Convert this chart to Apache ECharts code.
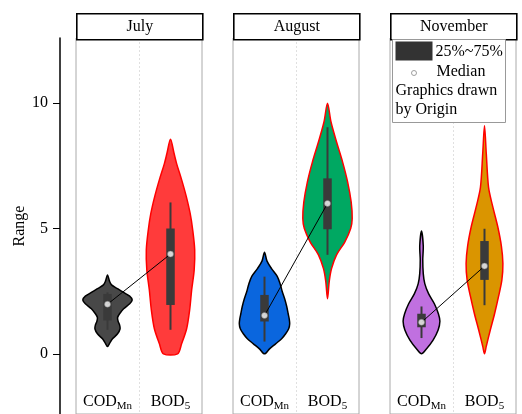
<!DOCTYPE html>
<html>
<head>
<meta charset="utf-8">
<script src="https://cdn.jsdelivr.net/npm/echarts@6/dist/echarts.min.js"></script>
<style>
html,body{margin:0;padding:0;background:#fff;}
#chart{width:522px;height:414px;}
</style>
</head>
<body>
<div id="chart"></div>
<script>
// ---------------- data ----------------
const panels = ['July', 'August', 'November'];
const categories = ['COD_Mn', 'BOD_5'];
const yTicks = [0, 5, 10];

// violin density profiles: [value, relative density (1 = widest)]
const julyCod = [[0.29,0],[0.45,0.1],[0.6,0.2],[0.8,0.4],[1.0,0.5],[1.15,0.48],[1.3,0.42],[1.45,0.4],[1.6,0.48],[1.8,0.64],[2.0,0.88],[2.15,0.98],[2.3,0.88],[2.45,0.64],[2.6,0.4],[2.75,0.16],[2.9,0.08],[3.15,0]];
const julyBod = [[0,0.28],[0.4,0.44],[1.0,0.64],[1.75,0.76],[2.55,0.84],[3.35,0.94],[4.15,0.96],[4.95,0.88],[5.6,0.78],[6.3,0.62],[6.95,0.44],[7.6,0.24],[8.0,0.14],[8.56,0]];
const augCod = [[0,0],[0.2,0.2],[0.4,0.44],[0.6,0.68],[0.8,0.84],[1.0,0.96],[1.2,1.0],[1.4,0.98],[1.6,0.94],[1.9,0.88],[2.2,0.8],[2.5,0.7],[2.8,0.62],[3.1,0.5],[3.4,0.28],[3.7,0.1],[4.05,0]];
const augBod = [[2.2,0],[2.9,0.07],[3.4,0.16],[3.95,0.36],[4.45,0.68],[5.0,0.92],[5.4,0.98],[6.05,0.94],[6.85,0.8],[7.65,0.6],[8.45,0.36],[9.25,0.14],[10.0,0]];
const novCod = [[0,0],[0.15,0.16],[0.55,0.46],[0.95,0.66],[1.3,0.73],[1.6,0.67],[2.0,0.51],[2.4,0.28],[2.8,0.13],[3.2,0.07],[3.75,0.05],[4.3,0.07],[4.9,0]];
const novBod = [[0,0],[0.3,0.07],[0.95,0.23],[1.6,0.4],[2.3,0.56],[2.95,0.69],[3.6,0.73],[4.3,0.67],[5.1,0.52],[5.9,0.32],[6.65,0.16],[8.0,0.07],[9.1,0]];

// box statistics per panel: [COD_Mn, BOD_5]
const boxLow    = [[1.33, 1.95], [1.29, 4.97], [1.06, 2.95]];
const boxHigh   = [[2.39, 5.0],  [2.35, 7.0],  [1.6, 4.5]];
const whiskLow  = [[0.96, 0.96], [0.49, 3.95], [0.63, 1.94]];
const whiskHigh = [[2.45, 6.04], [3.08, 9.04], [1.89, 4.99]];
const medians   = [[1.98, 3.98], [1.53, 6.0],  [1.26, 3.5]];

// ---------------- styles / layout ----------------
const profiles = [[julyCod, julyBod], [augCod, augBod], [novCod, novBod]];
const fills   = [['#484848', '#FF3B3B'], ['#0A66DE', '#00A862'], ['#C070E0', '#DA9500']];
const strokes = [['#000000', '#FF0000'], ['#000000', '#FF0000'], ['#000000', '#FF0000']];
const FONT = '"Liberation Serif", "Times New Roman", serif';
const panelLeft = [76, 233, 390];
const panelWidth = 126;
const gridTop = 38;

function makeRenderer(p) {
  return function (params, api) {
    const c = api.value(0);
    const prof = profiles[p][c];
    const bw = api.size([1, 0])[0];
    const scale = bw * 0.4;
    const left = [], right = [];
    prof.forEach(function (pt) {
      const xy = api.coord([c, pt[0]]);
      left.push([xy[0] - pt[1] * scale, xy[1]]);
      if (pt[1] > 0) right.push([xy[0] + pt[1] * scale, xy[1]]);
    });
    const pts = left.concat(right.reverse());
    const cx = api.coord([c, 0])[0];
    const wl = api.coord([c, whiskLow[p][c]]);
    const wh = api.coord([c, whiskHigh[p][c]]);
    const bl = api.coord([c, boxLow[p][c]]);
    const bh = api.coord([c, boxHigh[p][c]]);
    const boxW = 8.5;
    return {
      type: 'group',
      children: [
        { type: 'polygon', shape: { points: pts, smooth: 0.3 },
          style: { fill: fills[p][c], stroke: strokes[p][c], lineWidth: 1.5 } },
        { type: 'line', shape: { x1: cx, y1: wl[1], x2: cx, y2: wh[1] },
          style: { stroke: '#3a3a3a', lineWidth: 2 } },
        { type: 'rect', shape: { x: cx - boxW / 2, y: bh[1], width: boxW, height: bl[1] - bh[1] },
          style: { fill: '#3a3a3a' } }
      ]
    };
  };
}

const grids = [], xAxes = [], yAxes = [], series = [], graphics = [];
panels.forEach(function (name, p) {
  grids.push({ left: panelLeft[p], width: panelWidth, top: gridTop, bottom: 0,
    show: true, borderColor: '#aaaaaa', borderWidth: 1, backgroundColor: 'transparent' });
  xAxes.push({
    type: 'category', gridIndex: p, data: categories, boundaryGap: true,
    axisLine: { show: false }, axisTick: { show: false },
    splitLine: { show: true, interval: 0, showMinLine: false, showMaxLine: false,
      lineStyle: { color: '#e0e0e0', type: [2, 2], width: 1 } },
    axisLabel: {
      inside: true, margin: 2, color: '#000', interval: 0, hideOverlap: false,
      formatter: function (v) { const s = v.split('_'); return '{b|' + s[0] + '}{s|' + s[1] + '}'; },
      rich: {
        b: { fontFamily: FONT, fontSize: 16, color: '#000', lineHeight: 20 },
        s: { fontFamily: FONT, fontSize: 11, color: '#000', lineHeight: 20, padding: [9, 0, 0, 0] }
      }
    }
  });
  const y = { type: 'value', gridIndex: p, min: -2.4, max: 12.6, splitLine: { show: false } };
  if (p === 0) {
    Object.assign(y, {
      offset: 16,
      axisLine: { show: true, onZero: false, lineStyle: { color: '#000', width: 1.5 } },
      axisTick: { show: true, inside: false, length: 7, customValues: yTicks, lineStyle: { color: '#000', width: 1 } },
      axisLabel: { show: true, customValues: yTicks, margin: 12, color: '#000', fontFamily: FONT, fontSize: 16 },
      name: 'Range', nameLocation: 'middle', nameGap: 32,
      nameTextStyle: { fontFamily: FONT, fontSize: 16, color: '#000' }
    });
  } else {
    Object.assign(y, { show: false });
  }
  yAxes.push(y);

  series.push({
    type: 'custom', xAxisIndex: p, yAxisIndex: p, z: 2,
    renderItem: makeRenderer(p),
    data: [[0, medians[p][0]], [1, medians[p][1]]]
  });
  series.push({
    type: 'line', xAxisIndex: p, yAxisIndex: p, z: 3,
    data: medians[p], symbol: 'none', lineStyle: { color: '#000', width: 1 }
  });
  series.push({
    type: 'scatter', xAxisIndex: p, yAxisIndex: p, z: 4,
    data: medians[p], symbol: 'circle', symbolSize: 6,
    itemStyle: { color: '#ffffff', borderColor: '#777', borderWidth: 0.6 }
  });

  graphics.push({
    type: 'group', left: panelLeft[p], top: 13, z: 100,
    children: [
      { type: 'rect', z: 100, shape: { x: 0, y: 0, width: panelWidth, height: 26 },
        style: { fill: '#fff', stroke: '#000', lineWidth: 1.6 } },
      { type: 'text', z: 101, x: panelWidth / 2, y: 13,
        style: { text: name, fill: '#000', font: '16px ' + FONT, textAlign: 'center', textVerticalAlign: 'middle' } }
    ]
  });
});

// legend box (inside November panel)
const T = '16px ' + FONT;
graphics.push({
  type: 'group', left: 392, top: 39, z: 110,
  children: [
    { type: 'rect', z: 110, shape: { x: 0, y: 0, width: 113, height: 83 },
      style: { fill: '#fff', stroke: '#999', lineWidth: 1 } },
    { type: 'rect', z: 111, shape: { x: 3, y: 2, width: 37, height: 19 }, style: { fill: '#333' } },
    { type: 'text', z: 111, x: 43, y: 12, style: { text: '25%~75%', fill: '#000', font: T, textVerticalAlign: 'middle' } },
    { type: 'circle', z: 111, shape: { cx: 21.5, cy: 33.5, r: 2.5 }, style: { fill: '#fff', stroke: '#888', lineWidth: 0.8 } },
    { type: 'text', z: 111, x: 44, y: 32, style: { text: 'Median', fill: '#000', font: T, textVerticalAlign: 'middle' } },
    { type: 'text', z: 111, x: 3, y: 51, style: { text: 'Graphics drawn', fill: '#000', font: T, textVerticalAlign: 'middle' } },
    { type: 'text', z: 111, x: 3, y: 70, style: { text: 'by Origin', fill: '#000', font: T, textVerticalAlign: 'middle' } }
  ]
});

const chart = echarts.init(document.getElementById('chart'), null, { renderer: 'canvas' });
chart.setOption({
  animation: false,
  backgroundColor: '#fff',
  grid: grids, xAxis: xAxes, yAxis: yAxes, series: series, graphic: graphics
});
</script>
</body>
</html>
